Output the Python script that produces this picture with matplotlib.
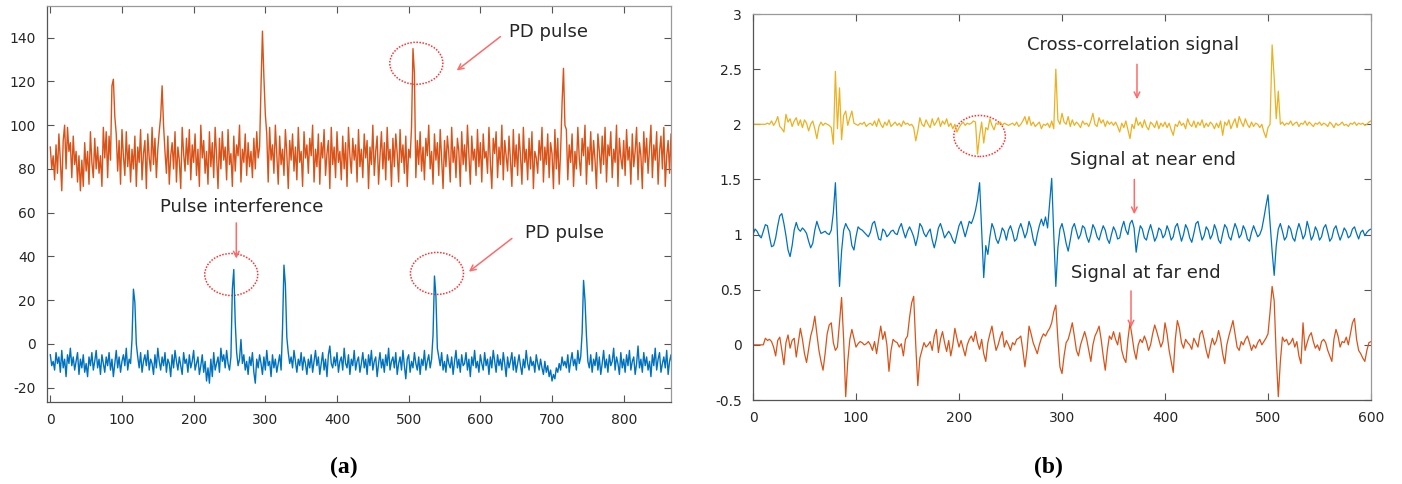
import matplotlib
matplotlib.use('Agg')
import matplotlib.pyplot as plt
from matplotlib.patches import Ellipse
from matplotlib.ticker import FuncFormatter
import numpy as np

plt.rcParams['font.family'] = ['DejaVu Sans']
plt.rcParams['axes.unicode_minus'] = False

# (a) PD signal with pulses, sampled every 2 points
step_a = 2
pd_top = [
    90, 80, 86, 75, 91, 78, 96, 84, 70, 93, 100, 80, 99, 88, 92, 76, 95, 82, 88, 74,
    86, 70, 84, 72, 92, 79, 88, 73, 97, 83, 76, 94, 80, 90, 78, 86, 72, 99, 85, 97,
    76, 95, 84, 118, 121, 104, 96, 79, 93, 73, 98, 86, 77, 97, 81, 91, 74, 89, 80, 95,
    72, 90, 83, 98, 75, 87, 93, 71, 96, 85, 79, 99, 82, 94, 76, 89, 97, 104, 118, 100,
    88, 78, 95, 73, 86, 92, 80, 97, 74, 90, 84, 71, 99, 87, 79, 94, 82, 98, 75, 91,
    83, 96, 77, 89, 72, 100, 85, 93, 78, 88, 73, 97, 81, 92, 76, 99, 86, 71, 94, 80,
    97, 84, 90, 75, 98, 82, 87, 72, 95, 79, 91, 86, 100, 74, 89, 83, 96, 77, 92, 81,
    88, 76, 94, 80, 97, 85, 90, 118, 143, 122, 105, 96, 74, 99, 84, 91, 78, 100, 86, 73,
    95, 82, 89, 77, 98, 87, 71, 93, 84, 96, 79, 90, 75, 99, 83, 88, 72, 97, 85, 91,
    78, 94, 86, 100, 74, 89, 81, 96, 73, 92, 85, 98, 77, 87, 93, 71, 99, 82, 90, 76,
    97, 83, 88, 75, 95, 80, 92, 72, 99, 86, 78, 94, 84, 91, 74, 98, 81, 89, 76, 96,
    85, 93, 71, 90, 82, 100, 77, 88, 95, 73, 86, 97, 80, 92, 75, 99, 84, 89, 72, 94,
    81, 96, 87, 74, 98, 83, 91, 78, 95, 72, 89, 85, 99, 135, 124, 76, 93, 82, 97, 79,
    90, 75, 94, 86, 100, 80, 88, 73, 96, 84, 92, 77, 98, 85, 71, 93, 81, 95, 87, 74,
    99, 83, 90, 76, 94, 88, 72, 97, 82, 91, 79, 100, 86, 73, 95, 84, 89, 77, 98, 81,
    92, 74, 96, 85, 88, 78, 99, 83, 71, 94, 87, 97, 76, 90, 82, 100, 75, 93, 86, 79,
    95, 84, 72, 98, 81, 91, 77, 96, 86, 73, 99, 83, 89, 75, 94, 80, 97, 71, 88, 85,
    78, 93, 84, 99, 74, 90, 82, 96, 76, 92, 87, 71, 98, 80, 94, 73, 88, 110, 126, 100,
    98, 75, 91, 83, 96, 72, 88, 80, 99, 85, 77, 94, 86, 100, 73, 90, 82, 97, 79, 93,
    84, 71, 96, 88, 78, 95, 82, 99, 74, 91, 86, 97, 76, 89, 83, 100, 72, 94, 85, 80,
    93, 77, 98, 84, 90, 73, 96, 81, 88, 99, 75, 92, 86, 71, 97, 83, 94, 78, 89, 100,
    76, 91, 84, 97, 73, 88, 95, 80, 99, 72, 86, 93, 78, 96, 74,
]
pd_bottom = [
    -5, -10, -8, -12, -4, -9, -6, -13, -3, -11, -7, -15, -5, -9, -2, -10, -6, -12, -8, -4,
    -14, -7, -11, -5, -13, -9, -15, -6, -10, -4, -12, -8, -3, -11, -7, -14, -5, -9, -13, -6,
    -10, -4, -12, -7, -15, -9, -3, -11, -6, -13, -8, -5, -10, -2, -12, -7, -9, 2, 25, 19,
    0, -6, -11, -4, -13, -8, -5, -10, -3, -12, -7, -9, -14, -5, -11, -2, -8, -12, -6, -10,
    -4, -13, -7, -9, -15, -5, -11, -3, -8, -12, -6, -10, -14, -4, -9, -7, -13, -5, -11, -8,
    -3, -12, -9, -6, -14, -10, -5, -13, -8, -17, -11, -18, -7, -15, -4, -12, -9, -6, -13, -2,
    -8, -5, -11, -3, -9, -12, -6, 25, 34, 10, -4, -10, -7, 2, -9, -5, -12, -8, -14, -6,
    -10, -4, -13, -18, -7, -11, -5, -9, -14, -6, -12, -3, -10, -8, -15, -5, -11, -7, -13, -9,
    -5, -12, 7, 36, 27, 3, -4, -9, -6, -11, -3, -8, -13, -7, -10, -4, -12, -6, -9, -14,
    -7, -11, -5, -13, -8, -3, -10, -6, -14, -9, -4, -12, -7, -15, -5, -1, -9, -11, -6, -10,
    -4, -13, -8, -6, -12, -2, -9, -11, -5, -14, -7, -10, -3, -12, -8, -6, -13, -9, -4, -11,
    -7, -14, -5, -10, -3, -12, -8, -6, -15, -9, -4, -11, -7, -13, -5, -10, -2, -12, -8, -6,
    -11, -4, -14, -9, -6, -12, -3, -10, -16, -7, -5, -13, -8, -11, -4, -9, -12, -6, -14, -7,
    -10, -3, -12, -8, -5, -11, -7, 4, 31, 22, -2, -6, -10, -4, -12, -8, -13, -5, -9, -11,
    -6, -14, -8, -3, -11, -7, -13, -5, -10, -9, -4, -12, -7, -15, -6, -10, -3, -11, -8, -13,
    -5, -9, -12, -4, -10, -7, -14, -6, -11, -3, -8, -13, -5, -10, -7, -12, -4, -9, -15, -6,
    -11, -8, -4, -12, -6, -13, -9, -5, -10, -14, -7, -11, -3, -9, -12, -6, -10, -8, -13, -5,
    -9, -12, -7, -11, -14, -8, -13, -10, -15, -12, -17, -14, -16, -11, -13, -9, -12, -6, -10, -8,
    -11, -5, -13, -8, -4, -10, -7, -12, -3, -9, -6, 5, 29, 20, 4, -8, -11, -5, -13, -7,
    -10, -4, -12, -6, -14, -9, -3, -11, -7, -13, -5, -10, -8, -2, -12, -6, -9, -14, -4, -11,
    -7, -13, -5, -10, -3, -12, -8, -6, -14, -9, -1, -11, -7, -13, -4, -10, -6, -12, -8, -15,
    -5, -10, -2, -12, -7, -4, -13, -9, -6, -11, -3, -14, -8, -5, -12,
]

# (b) cross-correlation and end signals, sampled every 2 points
step_b = 2
cross_corr = [
    2.00, 2.00, 2.00, 2.00, 2.00, 2.00, 2.00, 2.01, 2.00, 2.03, 1.99, 2.02, 2.07, 1.98, 1.96, 1.93, 2.09, 2.02, 2.05, 1.98, 2.03, 2.06, 1.99, 2.04, 1.97,
    2.04, 2.01, 1.94, 2.00, 2.03, 1.96, 1.87, 1.98, 2.02, 1.99, 2.01, 2.00, 1.99, 1.97, 1.82, 2.48, 1.96, 2.33, 1.86, 2.08, 2.12, 1.99, 2.06, 2.12, 2.01,
    2.00, 1.99, 2.01, 2.00, 2.02, 1.98, 2.00, 2.01, 1.99, 2.03, 1.98, 2.05, 2.00, 1.97, 2.02, 1.99, 2.04, 1.98, 2.00, 2.02, 1.99, 2.01, 1.98, 2.03, 2.00,
    2.01, 1.99, 2.00, 1.97, 1.85, 1.94, 2.06, 2.00, 1.98, 2.04, 2.00, 1.97, 2.05, 1.99, 2.02, 2.06, 1.98, 2.03, 2.00, 2.05, 1.98, 2.01, 1.96, 2.00, 1.93,
    1.97, 2.00, 2.02, 1.99, 2.01, 2.00, 2.01, 2.03, 2.02, 1.73, 1.90, 2.02, 1.83, 1.97, 1.95, 2.05, 1.99, 1.95, 2.01, 2.00, 2.02, 1.99, 2.01, 2.00, 1.99,
    2.00, 2.01, 1.99, 2.02, 1.98, 2.00, 2.03, 2.07, 2.00, 2.07, 1.99, 2.02, 1.98, 2.00, 2.02, 1.96, 2.00, 1.99, 2.01, 1.97, 2.03, 1.96, 2.50, 2.04, 2.00,
    2.10, 2.02, 2.00, 2.07, 1.98, 2.04, 1.99, 2.02, 2.00, 1.97, 2.03, 2.00, 2.01, 1.98, 2.03, 2.10, 2.00, 1.98, 2.06, 2.01, 2.04, 1.98, 2.03, 2.00, 2.02,
    1.99, 2.02, 1.98, 1.93, 2.01, 1.97, 2.03, 1.95, 1.87, 2.00, 1.96, 2.06, 1.99, 2.02, 1.97, 2.04, 1.98, 1.95, 2.02, 2.00, 1.97, 2.03, 1.96, 2.01, 1.98,
    2.02, 1.97, 2.01, 1.95, 1.90, 2.00, 1.98, 2.03, 1.99, 2.01, 1.96, 2.05, 2.00, 1.98, 2.03, 1.97, 2.02, 1.99, 2.04, 1.97, 2.01, 1.98, 2.02, 2.00, 1.96,
    2.01, 1.97, 2.03, 1.90, 2.02, 1.99, 2.04, 1.96, 2.01, 2.05, 1.97, 2.07, 2.02, 1.98, 2.05, 2.00, 1.97, 2.02, 1.98, 2.01, 2.00, 1.97, 2.00, 1.93, 1.88,
    1.97, 2.00, 2.72, 2.42, 2.05, 2.30, 2.00, 2.02, 1.99, 2.01, 2.00, 2.03, 1.99, 2.01, 2.02, 1.98, 2.01, 2.00, 2.03, 1.99, 2.02, 2.00, 1.98, 2.01, 2.00,
    2.02, 1.99, 2.01, 2.00, 1.98, 2.02, 2.00, 1.97, 2.01, 1.99, 2.00, 2.02, 1.99, 2.00, 1.98, 2.01, 2.00, 2.02, 1.99, 2.01, 2.00, 2.01, 1.99, 2.00, 2.02,
    2.03,
]
near_end = [
    1.00, 1.05, 1.03, 0.99, 0.97, 1.03, 1.09, 1.08, 0.98, 0.89, 0.90, 0.97, 1.08, 1.17, 1.19, 1.10, 0.99, 0.86, 0.80, 0.90, 1.04, 1.11, 1.05, 1.03, 1.06,
    1.04, 1.01, 0.94, 0.88, 0.92, 1.04, 1.12, 1.06, 1.01, 1.02, 1.03, 1.01, 1.00, 1.04, 1.20, 1.47, 1.00, 0.53, 0.85, 1.04, 1.10, 1.06, 1.03, 0.90, 0.86,
    0.98, 1.07, 1.05, 1.04, 1.02, 1.00, 0.98, 1.02, 1.10, 1.12, 1.04, 0.96, 0.95, 1.05, 1.03, 0.98, 1.00, 1.03, 1.04, 1.01, 1.00, 1.06, 1.10, 1.03, 0.97,
    1.03, 1.07, 1.03, 0.98, 0.90, 0.98, 1.10, 1.07, 1.01, 0.98, 1.02, 1.05, 0.95, 0.88, 0.96, 1.06, 1.10, 1.04, 0.97, 1.00, 1.03, 1.00, 0.95, 0.92, 1.00,
    1.08, 1.12, 1.05, 0.98, 1.05, 1.12, 1.10, 1.15, 1.22, 1.32, 1.47, 1.05, 0.61, 0.90, 0.82, 0.98, 1.10, 1.05, 0.96, 0.92, 0.98, 1.06, 1.03, 0.95, 1.04,
    1.08, 1.02, 0.94, 0.96, 1.05, 1.10, 1.04, 0.97, 1.02, 1.12, 1.06, 0.96, 0.90, 1.00, 1.08, 1.14, 1.08, 1.16, 1.06, 1.28, 1.51, 1.00, 0.53, 0.88, 1.05,
    1.10, 1.02, 0.92, 0.85, 0.95, 1.06, 1.10, 1.03, 0.96, 1.00, 1.08, 1.06, 0.98, 0.93, 1.00, 1.09, 1.05, 0.98, 0.95, 1.02, 1.08, 1.04, 0.96, 0.92, 1.00,
    1.07, 1.03, 0.96, 0.97, 1.06, 1.12, 1.04, 1.00, 1.10, 1.13, 1.06, 0.84, 0.98, 1.08, 1.05, 0.97, 0.95, 1.03, 1.09, 1.02, 0.94, 0.98, 1.06, 1.04, 0.97,
    1.00, 1.08, 1.03, 0.95, 0.98, 1.07, 1.10, 1.02, 0.94, 1.00, 1.09, 1.05, 0.97, 0.93, 1.01, 1.10, 1.12, 1.03, 0.95, 0.99, 1.07, 1.04, 0.96, 1.00, 1.09,
    1.04, 0.95, 0.92, 1.01, 1.09, 1.06, 0.98, 0.95, 1.03, 1.10, 1.05, 0.97, 1.00, 1.08, 1.04, 0.96, 0.94, 1.02, 1.08, 1.03, 0.98, 1.00, 1.05, 1.15, 1.26,
    1.36, 1.10, 0.85, 0.63, 0.90, 1.05, 1.10, 1.03, 0.95, 0.98, 1.08, 1.05, 0.97, 0.94, 1.03, 1.10, 1.04, 0.96, 1.00, 1.12, 1.05, 0.95, 0.99, 1.07, 1.03,
    0.95, 0.98, 1.06, 1.09, 1.02, 0.94, 0.97, 1.05, 1.08, 1.01, 0.95, 1.00, 1.06, 1.03, 0.97, 0.99, 1.05, 1.07, 1.01, 0.96, 1.02, 1.04, 0.99, 1.02, 1.04,
    1.05,
]
far_end = [
    0.00, 0.00, 0.00, 0.00, 0.00, 0.00, 0.06, 0.04, 0.05, 0.03, -0.02, -0.10, 0.04, 0.07, -0.05, -0.18, 0.02, 0.09, -0.03, 0.04, 0.06, -0.11, 0.02, 0.15, 0.05,
    -0.08, -0.16, -0.04, 0.08, 0.15, 0.26, 0.10, -0.05, -0.15, -0.23, -0.08, 0.10, 0.18, 0.20, 0.02, -0.05, -0.02, 0.20, 0.43, 0.05, -0.47, -0.15, 0.05, 0.14, 0.06,
    -0.02, 0.01, 0.03, 0.02, 0.00, 0.01, 0.03, 0.00, -0.05, 0.03, -0.08, 0.05, 0.17, 0.05, 0.12, 0.00, -0.24, -0.05, 0.05, 0.03, 0.02, -0.02, 0.01, -0.10, 0.05,
    0.08, 0.25, 0.38, 0.44, 0.00, -0.37, -0.12, -0.05, 0.02, -0.02, 0.00, 0.03, -0.05, 0.08, 0.14, -0.07, 0.05, 0.12, 0.02, -0.06, 0.04, -0.10, 0.00, 0.15, 0.06,
    -0.02, 0.04, -0.03, -0.10, 0.00, 0.05, 0.08, 0.03, 0.12, 0.02, -0.04, 0.05, -0.08, -0.15, 0.02, 0.10, 0.17, 0.05, -0.05, 0.00, 0.07, 0.12, -0.02, 0.04, 0.00,
    -0.05, 0.02, 0.00, 0.05, 0.06, 0.08, -0.05, -0.20, -0.05, 0.17, 0.10, 0.02, -0.03, -0.08, 0.00, 0.06, 0.10, 0.08, 0.12, 0.15, 0.20, 0.30, 0.36, 0.05, -0.20,
    -0.26, -0.10, 0.02, 0.05, 0.12, 0.20, 0.08, -0.05, -0.10, 0.00, 0.06, 0.12, 0.05, -0.05, -0.15, 0.00, 0.08, 0.12, 0.17, 0.05, -0.10, -0.23, -0.05, 0.08, 0.05,
    0.12, 0.05, 0.00, 0.11, -0.05, -0.12, -0.16, 0.05, 0.20, 0.08, -0.05, -0.13, 0.00, 0.05, 0.02, 0.08, 0.03, -0.05, 0.00, 0.10, 0.18, 0.12, 0.05, -0.02, 0.03,
    0.20, 0.10, -0.05, -0.15, -0.25, 0.05, 0.22, 0.15, 0.02, -0.03, 0.05, 0.02, 0.00, -0.04, 0.06, 0.02, -0.02, 0.10, 0.13, 0.05, -0.05, -0.12, -0.02, 0.06, 0.00,
    0.04, 0.13, 0.05, -0.08, -0.17, 0.00, 0.08, 0.15, 0.22, 0.10, -0.02, -0.05, 0.03, 0.00, 0.05, 0.08, 0.02, -0.05, 0.00, -0.03, 0.02, 0.05, 0.00, 0.03, 0.06,
    0.10, 0.30, 0.53, 0.40, -0.10, -0.47, -0.15, 0.07, 0.03, 0.05, 0.00, 0.02, 0.06, -0.02, 0.03, -0.10, -0.17, 0.20, -0.05, 0.02, 0.08, 0.11, 0.03, -0.03, 0.00,
    -0.05, 0.03, 0.05, 0.02, -0.05, -0.10, -0.15, 0.05, 0.14, 0.08, -0.02, 0.03, 0.02, 0.07, 0.00, 0.10, 0.20, 0.24, 0.05, -0.05, -0.08, -0.12, -0.15, -0.05, 0.02,
    0.03,
]

ORANGE = '#D95319'
BLUE = '#0072BD'
YELLOW = '#EDB120'
ARROW = '#FF6A6A'
RING = '#FF3030'
TXT = '#262626'


def style_axes(ax):
    ax.tick_params(direction='in', top=True, right=True, length=5, width=0.8,
                   labelsize=10, labelcolor=TXT, color='#555555', pad=8)
    for side in ['left', 'bottom']:
        ax.spines[side].set_color('#555555')
    for side in ['top', 'right']:
        ax.spines[side].set_color('#999999')
    for s in ax.spines.values():
        s.set_linewidth(0.9)


def arrow(ax, start, end):
    ax.annotate('', xy=end, xytext=start,
                arrowprops=dict(arrowstyle='->', color=ARROW, lw=1.1,
                                shrinkA=0, shrinkB=0, mutation_scale=10))


def ring(ax, center, w, h):
    ax.add_patch(Ellipse(center, w, h, fill=False, ec=RING, ls=(0, (1, 1)), lw=1.1))


fig = plt.figure(figsize=(14.02, 4.84), dpi=100)

# ---- (a)
ax1 = fig.add_axes([47 / 1402, 1 - 402 / 484, 624 / 1402, 396 / 484])
ax1.plot(np.arange(len(pd_top)) * step_a, pd_top, color=ORANGE, lw=1.0)
ax1.plot(np.arange(len(pd_bottom)) * step_a, pd_bottom, color=BLUE, lw=1.0)
ax1.set_xlim(-4.6, 866)
ax1.set_ylim(-26.6, 154.5)
ax1.set_xticks(np.arange(0, 801, 100))
ax1.set_yticks(np.arange(-20, 141, 20))
style_axes(ax1)

ax1.text(695, 142.6, 'PD pulse', fontsize=13, color=TXT, ha='center', va='center')
arrow(ax1, (628, 140.5), (567, 125))
ring(ax1, (510.7, 128.3), 74, 19.2)

ax1.text(267.5, 62.4, 'Pulse interference', fontsize=13, color=TXT, ha='center', va='center')
arrow(ax1, (259.5, 55.3), (259.5, 39))
ring(ax1, (252.5, 31.7), 74, 19.2)

ax1.text(718, 50.8, 'PD pulse', fontsize=13, color=TXT, ha='center', va='center')
arrow(ax1, (644, 48.2), (584, 33))
ring(ax1, (539.5, 32.2), 74, 19.2)

# ---- (b)
ax2 = fig.add_axes([753 / 1402, 1 - 400 / 484, 618 / 1402, 386 / 484])
ax2.plot(np.arange(len(cross_corr)) * step_b, cross_corr, color=YELLOW, lw=0.9)
ax2.plot(np.arange(len(near_end)) * step_b, near_end, color=BLUE, lw=0.9)
ax2.plot(np.arange(len(far_end)) * step_b, far_end, color=ORANGE, lw=0.9)
ax2.set_xlim(0, 600)
ax2.set_ylim(-0.5, 3)
ax2.set_xticks(np.arange(0, 601, 100))
ax2.set_yticks(np.arange(-0.5, 3.01, 0.5))
ax2.yaxis.set_major_formatter(FuncFormatter(lambda v, p: '%g' % v))
style_axes(ax2)

ax2.text(369, 2.716, 'Cross-correlation signal', fontsize=13, color=TXT, ha='center', va='center')
arrow(ax2, (372.8, 2.544), (372.8, 2.227))
ring(ax2, (220, 1.894), 50, 0.372)

ax2.text(388, 1.674, 'Signal at near end', fontsize=13, color=TXT, ha='center', va='center')
arrow(ax2, (370.2, 1.50), (370.2, 1.184))

ax2.text(381.7, 0.655, 'Signal at far end', fontsize=13, color=TXT, ha='center', va='center')
arrow(ax2, (367, 0.489), (367, 0.157))

fig.text(343.5 / 1402, 1 - 467.5 / 484, '(a)', fontsize=17, fontweight='bold',
         family=['Liberation Serif', 'DejaVu Serif'], ha='center', va='center')
fig.text(1048 / 1402, 1 - 467.5 / 484, '(b)', fontsize=17, fontweight='bold',
         family=['Liberation Serif', 'DejaVu Serif'], ha='center', va='center')

fig.savefig('out.png', dpi=100)
